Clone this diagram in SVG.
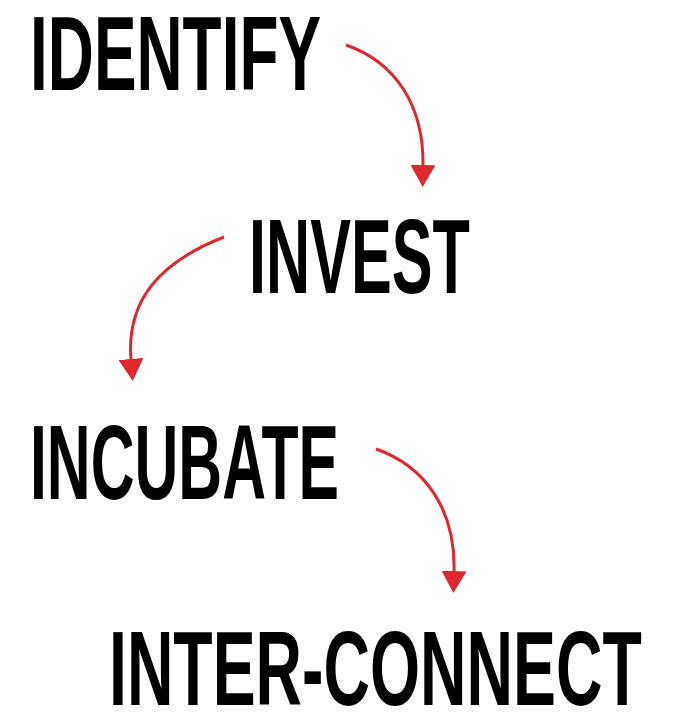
<svg xmlns="http://www.w3.org/2000/svg" width="678" height="713" viewBox="0 0 678 713">
<style>
.t{font-family:"Liberation Sans","DejaVu Sans",Arial,sans-serif;font-weight:bold;font-size:106px;fill:#000}
.c{fill:none;stroke:#e0282c;stroke-width:3;marker-end:url(#ah)}
</style>
<defs>
<marker id="ah" viewBox="0 0 22 25" refX="1" refY="12.5" markerWidth="22" markerHeight="25" markerUnits="userSpaceOnUse" orient="auto">
<path d="M0,0 L22,12.5 L0,25 z" fill="#e0282c"/>
</marker>
</defs>
<rect width="678" height="713" fill="#fff"/>
<g id="identify"><text class="t" transform="translate(30,90) scale(0.6,1)" x="0" y="0" textLength="485" lengthAdjust="spacingAndGlyphs">IDENTIFY</text></g>
<g id="invest"><text class="t" transform="translate(249,293) scale(0.6,1)" x="0" y="0" textLength="368" lengthAdjust="spacingAndGlyphs">INVEST</text></g>
<g id="incubate"><text class="t" transform="translate(30,499) scale(0.6,1)" x="0" y="0" textLength="515" lengthAdjust="spacingAndGlyphs">INCUBATE</text></g>
<g id="inter-connect"><text class="t" transform="translate(109,705) scale(0.6,1)" x="0" y="0" textLength="888" lengthAdjust="spacingAndGlyphs">INTER-CONNECT</text></g>
<g id="connectors">
<path class="c" d="M346,45 C395,62 424,105 423,166"/>
<path class="c" d="M224,237 C160,262 126,300 131,360"/>
<path class="c" d="M376,449 C425,466 456,510 454,572"/>
</g>
</svg>
